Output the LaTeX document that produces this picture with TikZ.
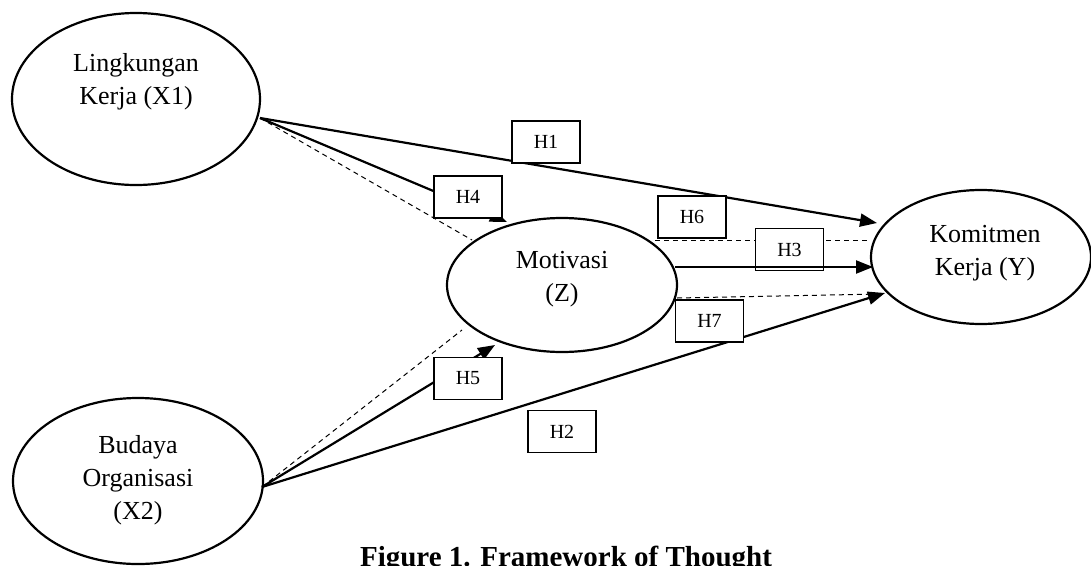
\documentclass[tikz,border=0pt]{standalone}
\usepackage{fontspec}
\setmainfont{Liberation Serif}
\usetikzlibrary{shapes.geometric,arrows.meta}
\tikzset{
  var/.style={draw, ellipse, line width=2.2pt, inner sep=0pt},
  vtext/.style={align=center, font=\fontsize{26}{33}\selectfont},
  hbox/.style={draw, rectangle, fill=white, line width=1.3pt, inner sep=0pt,
    minimum width=68pt, minimum height=42pt, font=\fontsize{20}{24}\selectfont},
  path/.style={line width=2.2pt, -{Triangle[length=17pt,width=13pt]}},
  dline/.style={line width=1pt, dash pattern=on 5pt off 4pt},
}
\begin{document}
\begin{tikzpicture}[x=1pt,y=-1pt]
\useasboundingbox (0,0) rectangle (1091,565);
% variables
\node[var, minimum width=248pt, minimum height=172pt] (x1) at (136,99) {};
\node[var, minimum width=250pt, minimum height=166pt] (x2) at (138,481) {};
\node[var, minimum width=230pt, minimum height=134pt] (z) at (562,285) {};
\node[var, minimum width=220pt, minimum height=134pt] (y) at (981,257) {};
\node[vtext] (tx1) at (136,82) {Lingkungan\\Kerja (X1)};
\node[vtext] (tx2) at (138,480) {Budaya\\Organisasi\\(X2)};
\node[vtext] (tz) at (562,279) {Motivasi\\(Z)};
\node[vtext] (ty) at (985,253) {Komitmen\\Kerja (Y)};
% connector end points
\coordinate (o1) at (260,118);
\coordinate (o2) at (262,487);
\coordinate (h1e) at (877,223);
\coordinate (h4e) at (507,222);
\coordinate (d1e) at (472,240);
\coordinate (h5e) at (495,345);
\coordinate (h2e) at (885,293);
\coordinate (d2e) at (462,330);
\coordinate (h3s) at (675,267);
\coordinate (h3e) at (873,267);
\coordinate (h6s) at (655,240);
\coordinate (h6e) at (870,240);
\coordinate (h7s) at (677,298);
\coordinate (h7e) at (880,294);
% dashed lines
\draw[dline] (o1) -- (d1e);
\draw[dline] (o2) -- (d2e);
\draw[dline] (h6s) -- (h6e);
\draw[dline] (h7s) -- (h7e);
% solid paths
\draw[path] (o1) -- (h1e);
\draw[path] (o1) -- (h4e);
\draw[path] (o2) -- (h5e);
\draw[path] (o2) -- (h2e);
% hypothesis boxes
\node[hbox] (bh1) at (546,142) {H1};
\node[hbox] (bh4) at (468,197) {H4};
\node[hbox] (bh6) at (692,217) {H6};
\node[hbox] (bh3) at (789.5,249.5) {H3};
\node[hbox] (bh7) at (709.5,321) {H7};
\node[hbox] (bh5) at (468,378.5) {H5};
\node[hbox] (bh2) at (562,431.5) {H2};
% H3 path drawn over its box
\draw[path] (h3s) -- (h3e);
% caption
\node[font=\bfseries\fontsize{29}{34}\selectfont, anchor=base] (cap) at (566,566) {Figure 1. Framework of Thought};
\end{tikzpicture}
\end{document}
